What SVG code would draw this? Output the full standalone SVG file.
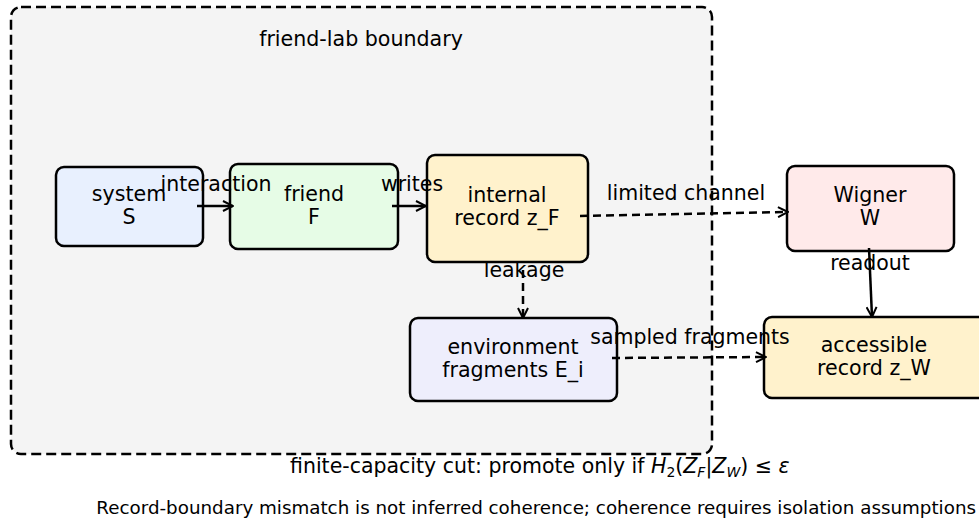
<svg xmlns="http://www.w3.org/2000/svg" width="979" height="520" viewBox="0 0 979 520">
<defs>
<marker id="arr" viewBox="0 0 12 12" refX="11" refY="6" markerWidth="12" markerHeight="12" markerUnits="userSpaceOnUse" orient="auto">
<path d="M1,1 L11,6 L1,11" fill="none" stroke="#000" stroke-width="2"/>
</marker>
<style>
text{font-family:"DejaVu Sans","Liberation Sans",sans-serif;fill:#000}
.n{font-size:20.6px;text-anchor:middle}
.l{font-size:20.5px;text-anchor:middle}
.box{stroke:#000;stroke-width:2.5}
.e{fill:none;stroke:#000;stroke-width:2.5;marker-end:url(#arr)}
.d{stroke-dasharray:8,5}
</style>
</defs>
<rect width="979" height="520" fill="#fff"/>
<g id="boundary">
<rect x="11" y="7" width="701" height="447" rx="10" fill="#f4f4f4" stroke="#000" stroke-width="2.5" stroke-dasharray="10,5"/>
<text class="n" x="361" y="46">friend-lab boundary</text>
</g>
<g id="system">
<rect class="box" x="56" y="167" width="147" height="79" rx="8" fill="#e8f0fe"/>
<text class="n" x="129" y="201">system</text>
<text class="n" x="129" y="224">S</text>
</g>
<g id="friend">
<rect class="box" x="230" y="164" width="168" height="85" rx="8" fill="#e6fce6"/>
<text class="n" x="314" y="201">friend</text>
<text class="n" x="314" y="224">F</text>
</g>
<g id="record_zF">
<rect class="box" x="427" y="155" width="161" height="107" rx="8" fill="#fff2cc"/>
<text class="n" x="507" y="202">internal</text>
<text class="n" x="507" y="225">record z_F</text>
</g>
<g id="wigner">
<rect class="box" x="787" y="166" width="167" height="85" rx="8" fill="#ffeaea"/>
<text class="n" x="870" y="202">Wigner</text>
<text class="n" x="870" y="225">W</text>
</g>
<g id="environment">
<rect class="box" x="410" y="318" width="207" height="83" rx="8" fill="#eeeefc"/>
<text class="n" x="513" y="354">environment</text>
<text class="n" x="513" y="377">fragments E_i</text>
</g>
<g id="record_zW">
<rect class="box" x="764" y="317" width="222" height="81" rx="8" fill="#fff2cc"/>
<text class="n" x="874" y="352">accessible</text>
<text class="n" x="874" y="375">record z_W</text>
</g>
<g id="connectors">
<line class="e" x1="197" y1="206" x2="233" y2="206"/>
<line class="e" x1="392" y1="206" x2="426" y2="206"/>
<line class="e d" x1="580" y1="216" x2="788" y2="212"/>
<line class="e d" x1="523" y1="270" x2="523" y2="318"/>
<line class="e" x1="869" y1="248" x2="872" y2="317"/>
<line class="e d" x1="612" y1="358" x2="766" y2="357"/>
<text class="l" x="216" y="191">interaction</text>
<text class="l" x="412" y="191">writes</text>
<text class="l" x="686" y="200">limited channel</text>
<text class="l" x="524" y="277">leakage</text>
<text class="l" x="870" y="270">readout</text>
<text class="l" x="690" y="344">sampled fragments</text>
</g>
<g id="notes">
<text x="290" y="473" style="font-size:20.5px">finite-capacity cut: promote only if <tspan font-style="italic">H</tspan><tspan font-size="14" dy="4">2</tspan><tspan dy="-4">(</tspan><tspan font-style="italic">Z</tspan><tspan font-size="14" font-style="italic" dy="4">F</tspan><tspan dy="-4">|</tspan><tspan font-style="italic">Z</tspan><tspan font-size="14" font-style="italic" dy="4">W</tspan><tspan dy="-4">) ≤ </tspan><tspan font-style="italic">ε</tspan></text>
<text x="976" y="514" style="font-size:18.3px;text-anchor:end">Record-boundary mismatch is not inferred coherence; coherence requires isolation assumptions</text>
</g>
</svg>
